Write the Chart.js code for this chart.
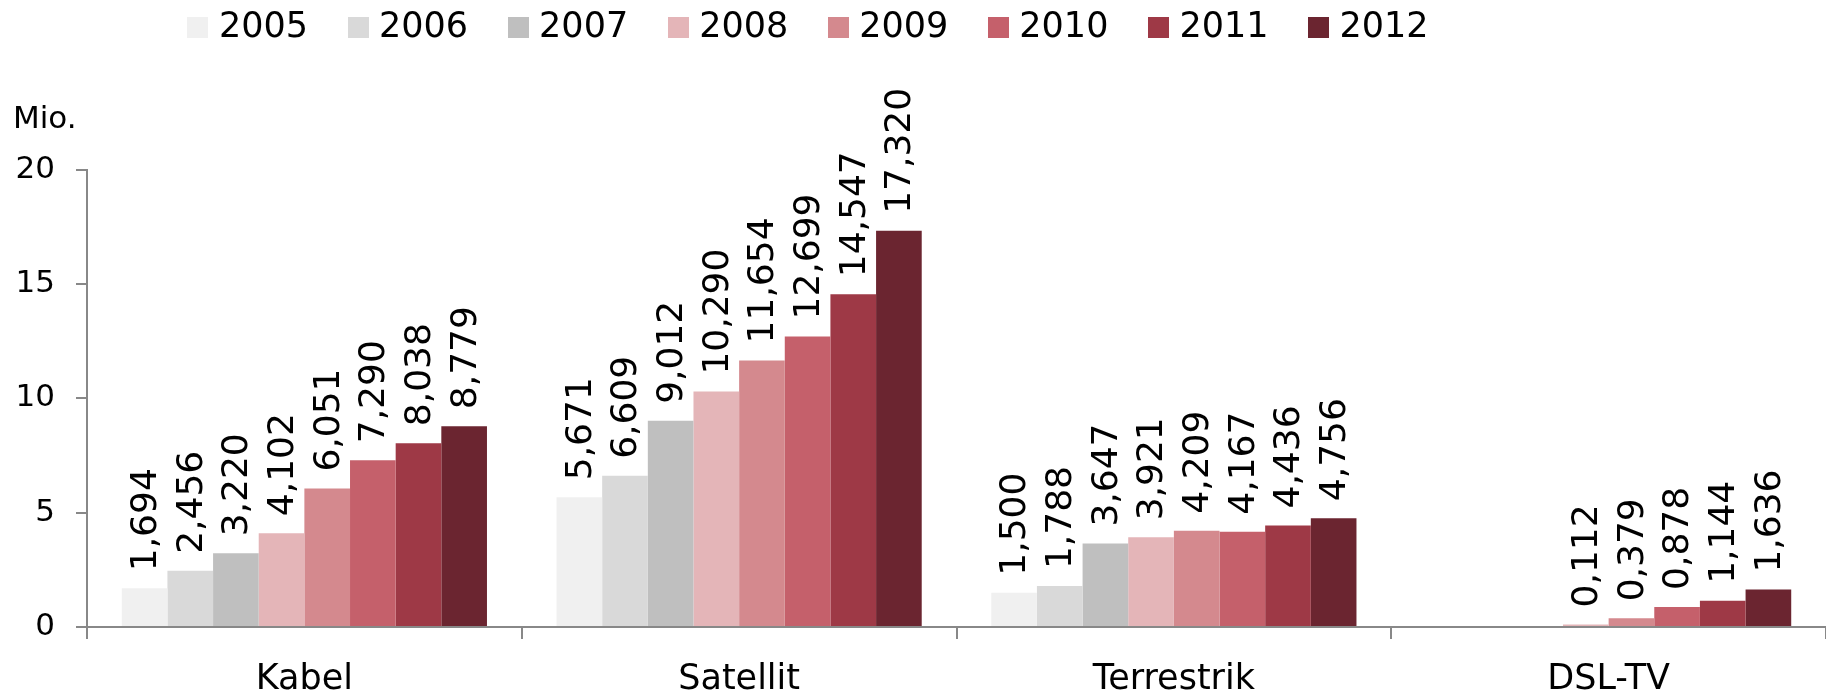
<!DOCTYPE html>
<html>
<head>
<meta charset="utf-8">
<title>TV-Empfangswege</title>
<script src="https://cdn.jsdelivr.net/npm/chart.js"></script>
<style>
  html, body { margin: 0; padding: 0; background: #fff; }
  #wrap { width: 1826px; height: 693px; }
</style>
</head>
<body>
<div id="wrap"><canvas id="chart" width="1826" height="693"></canvas></div>
<script>
// Empfangswege (categories) and years (series)
const platforms = ['Kabel', 'Satellit', 'Terrestrik', 'DSL-TV'];
const years = ['2005', '2006', '2007', '2008', '2009', '2010', '2011', '2012'];

// values in Mio., one entry per year
const kabel = [1.694, 2.456, 3.220, 4.102, 6.051, 7.290, 8.038, 8.779];
const satellit = [5.671, 6.609, 9.012, 10.290, 11.654, 12.699, 14.547, 17.320];
const terrestrik = [1.500, 1.788, 3.647, 3.921, 4.209, 4.167, 4.436, 4.756];
const dslTv = [null, null, null, 0.112, 0.379, 0.878, 1.144, 1.636];

const yearColors = ['#f0f0f0', '#d9d9d9', '#bfbfbf', '#e4b5b8', '#d4898e', '#c5606b', '#9e3946', '#6b2530'];

const yTicks = [0, 5, 10, 15, 20];

const FONT = '"DejaVu Sans", Verdana, sans-serif';

// little square swatches used as legend markers
function swatch(color) {
  const c = document.createElement('canvas');
  c.width = 21;
  c.height = 21;
  const g = c.getContext('2d');
  g.fillStyle = color;
  g.fillRect(0, 0, 21, 21);
  return c;
}
const swatches = yearColors.map(swatch);

const datasets = years.map((year, i) => ({
  label: year,
  data: [kabel[i], satellit[i], terrestrik[i], dslTv[i]],
  backgroundColor: yearColors[i],
  borderWidth: 0,
  categoryPercentage: 0.84,
  barPercentage: 1.0
}));

// legend sits left of centre and near the top edge in the original
const legendShift = {
  id: 'legendShift',
  afterLayout(chart) {
    const lg = chart.legend;
    lg.left -= 111;
    lg.right -= 111;
    lg.top -= 114.5;
    lg.bottom -= 114.5;
  }
};

// rotated value labels above each bar
const valueLabels = {
  id: 'valueLabels',
  afterDatasetsDraw(chart) {
    const ctx = chart.ctx;
    ctx.save();
    ctx.font = '36px ' + FONT;
    ctx.fillStyle = '#000';
    ctx.textAlign = 'left';
    ctx.textBaseline = 'middle';
    chart.data.datasets.forEach((ds, di) => {
      const meta = chart.getDatasetMeta(di);
      meta.data.forEach((bar, i) => {
        const v = ds.data[i];
        if (v == null) return;
        ctx.save();
        ctx.translate(bar.x + 2, bar.y - 17);
        ctx.rotate(-Math.PI / 2);
        ctx.fillText(v.toFixed(3).replace('.', ','), 0, 0);
        ctx.restore();
      });
    });
    ctx.restore();
  }
};

// unit label above the y axis
const unitLabel = {
  id: 'unitLabel',
  afterDraw(chart) {
    const ctx = chart.ctx;
    ctx.save();
    ctx.font = '31px ' + FONT;
    ctx.fillStyle = '#000';
    ctx.textAlign = 'left';
    ctx.textBaseline = 'alphabetic';
    ctx.fillText('Mio.', 13, 128);
    ctx.restore();
  }
};

new Chart(document.getElementById('chart'), {
  type: 'bar',
  data: { labels: platforms, datasets: datasets },
  plugins: [legendShift, valueLabels, unitLabel],
  options: {
    responsive: false,
    animation: false,
    devicePixelRatio: 1,
    layout: { padding: { top: 78, left: 15, right: -4, bottom: 0 } },
    plugins: {
      tooltip: { enabled: false },
      legend: {
        position: 'top',
        labels: {
          color: '#000',
          font: { family: FONT, size: 35 },
          usePointStyle: true,
          pointStyleWidth: 7,
          boxHeight: 21,
          padding: 46.5,
          generateLabels(chart) {
            const items = Chart.defaults.plugins.legend.labels.generateLabels(chart);
            items.forEach((it, i) => { it.pointStyle = swatches[i]; });
            return items;
          }
        }
      }
    },
    scales: {
      x: {
        offset: true,
        afterFit(scale) { scale.height = 66; },
        grid: {
          offset: true,
          drawOnChartArea: false,
          drawTicks: true,
          tickLength: 12,
          color: '#888888',
          lineWidth: 2
        },
        border: { color: '#888888', width: 2 },
        ticks: {
          color: '#000',
          font: { family: FONT, size: 35, lineHeight: 1.0 },
          padding: 23.5
        }
      },
      y: {
        min: 0,
        max: 20,
        afterFit(scale) { scale.width = 72; },
        afterBuildTicks(scale) {
          scale.ticks = yTicks.map(v => ({ value: v }));
        },
        grid: {
          drawOnChartArea: false,
          drawTicks: true,
          tickLength: 11,
          color: '#888888',
          lineWidth: 2
        },
        border: { color: '#888888', width: 2 },
        ticks: {
          color: '#000',
          font: { family: FONT, size: 31 },
          padding: 21
        }
      }
    }
  }
});
</script>
</body>
</html>
